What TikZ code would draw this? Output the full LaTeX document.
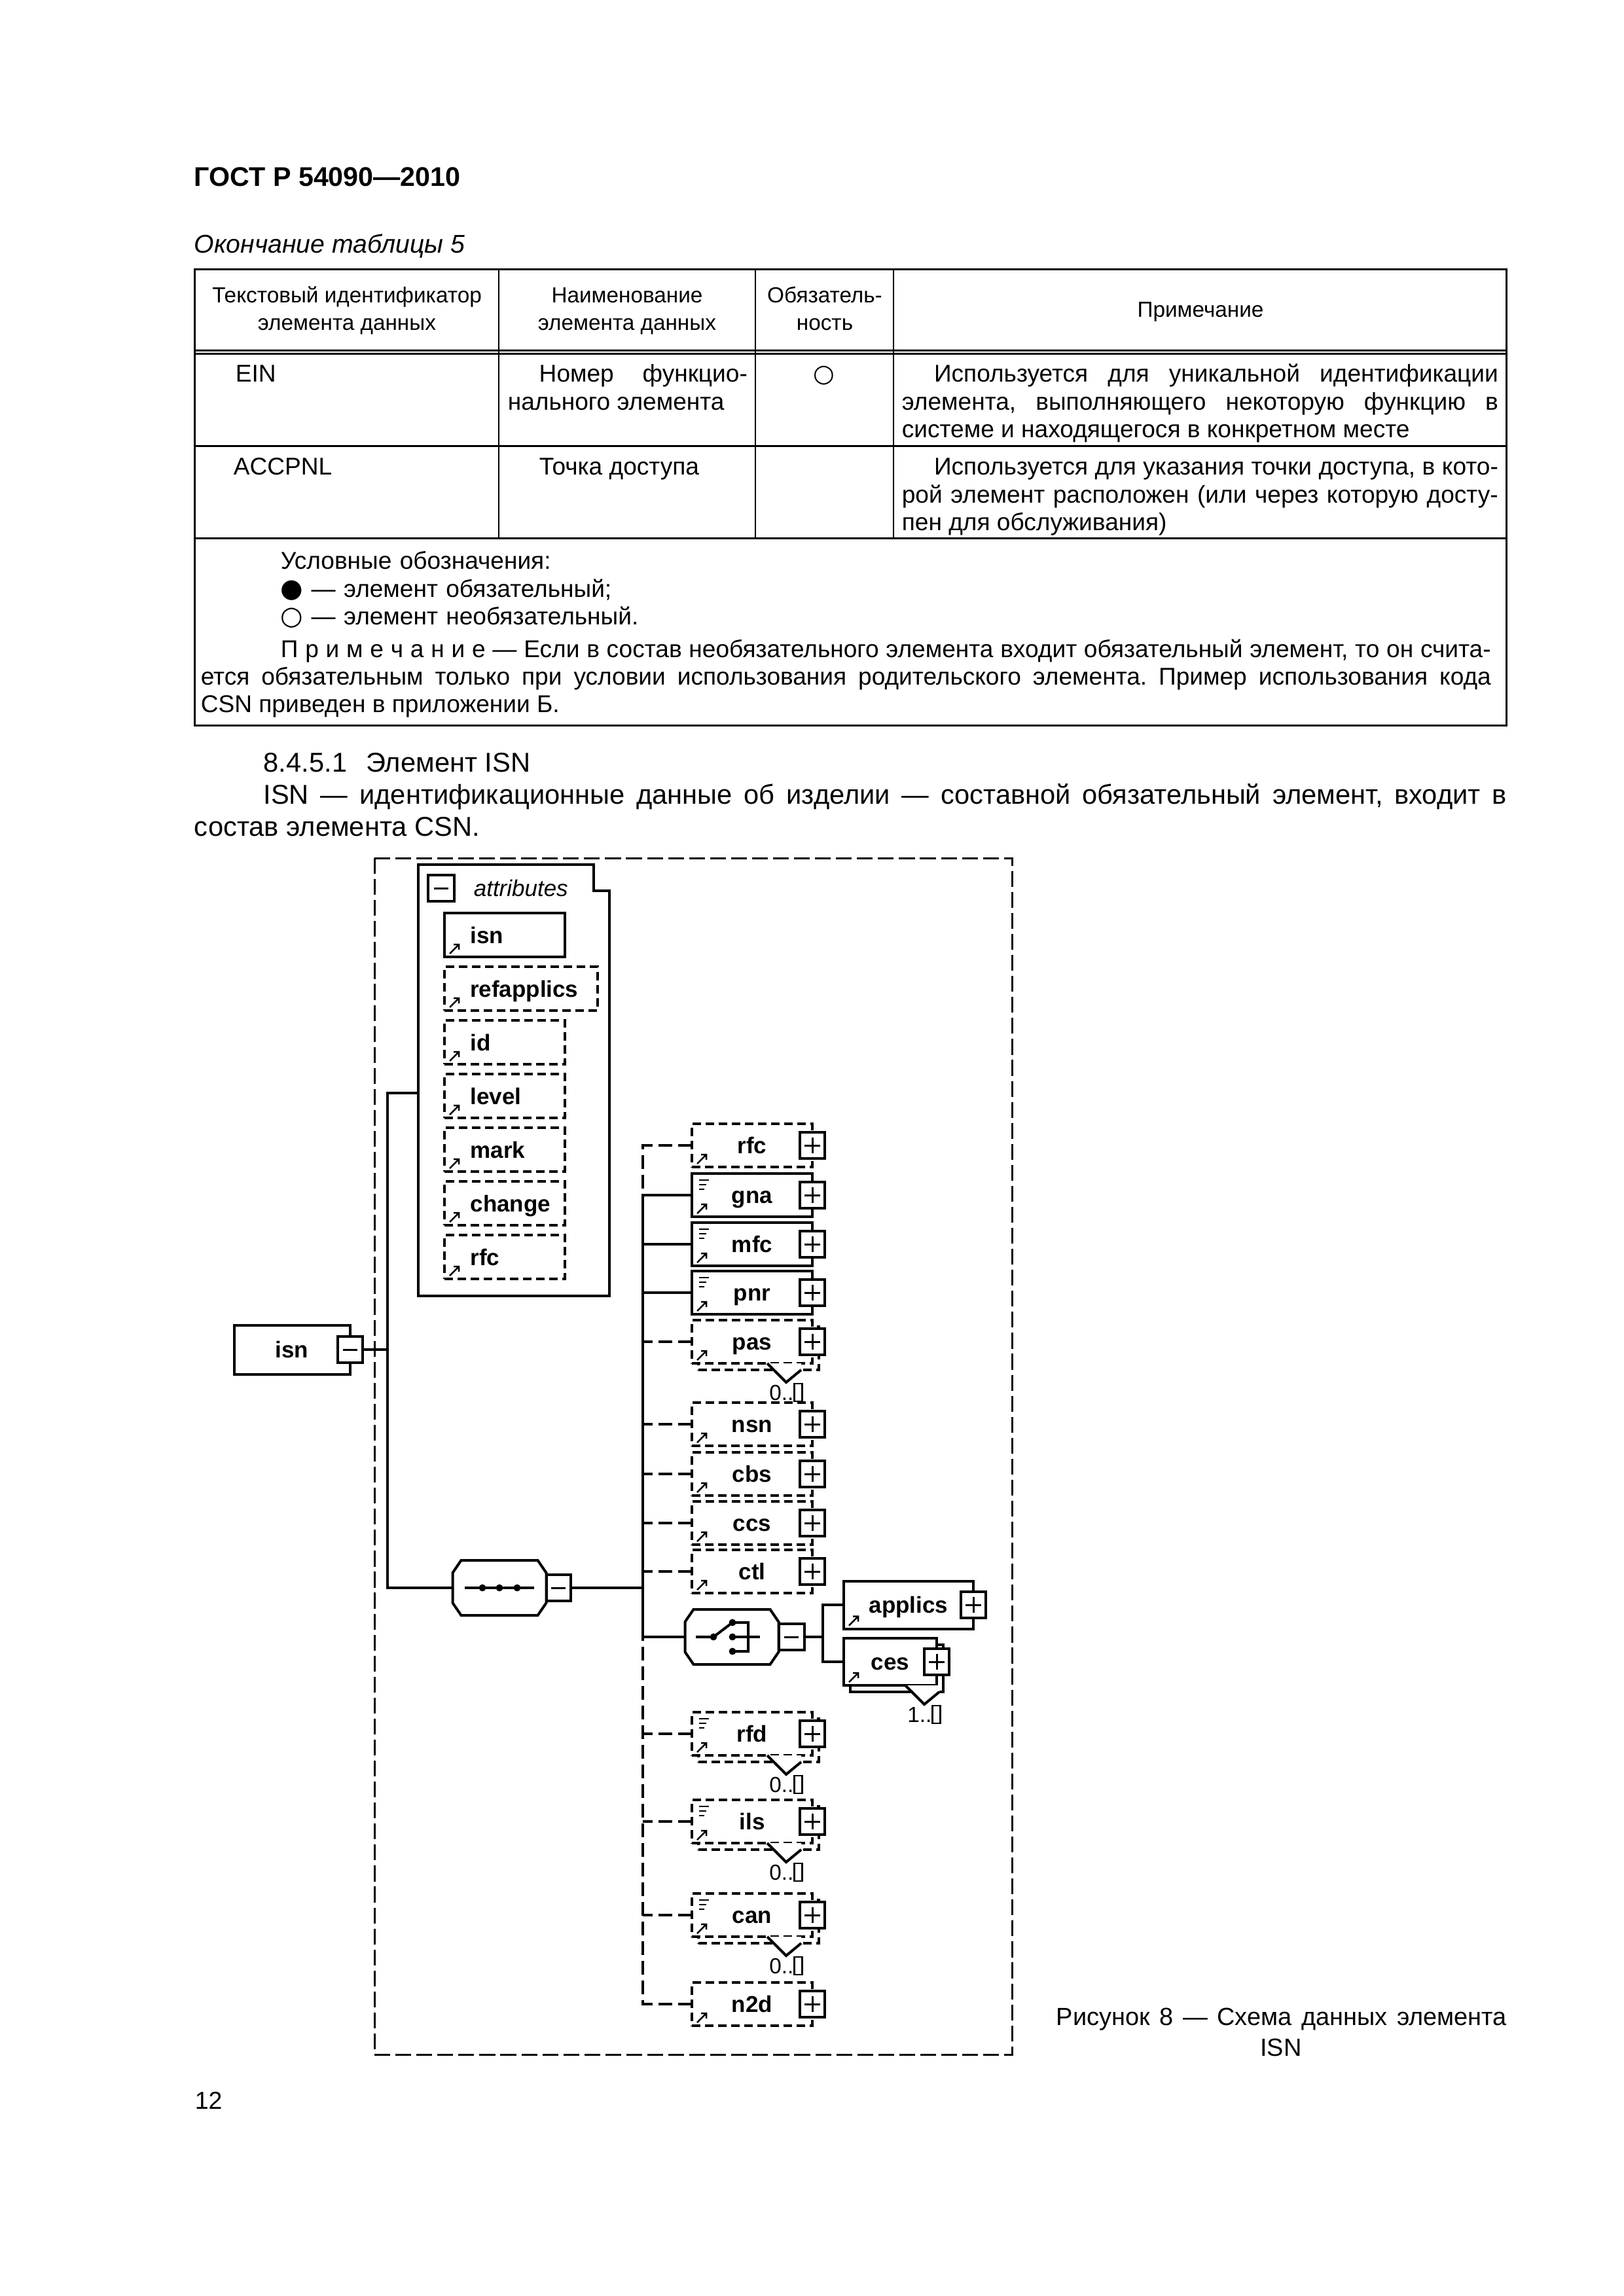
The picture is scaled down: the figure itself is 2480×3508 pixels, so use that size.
\documentclass[tikz,border=0pt]{standalone}
\usepackage{fontspec}
\setmainfont{Liberation Sans}
\newfontfamily\shapesfont{DejaVu Sans}
\usetikzlibrary{positioning,shadows,fit}
\frenchspacing
\newcommand{\pxu}{*0.24009pt}
\newcommand{\dotfull}{{\shapesfont\fontsize{9.5}{10}\selectfont ●}}
\newcommand{\dotempty}{{\shapesfont\fontsize{9.5}{10}\selectfont ○}}
\newcommand{\nobox}{{\fboxsep=0pt\fboxrule=0.6pt\fbox{\rule{0pt}{5.8pt}\hspace{2.2pt}}}}

\begin{document}
\begin{tikzpicture}[
  x=0.24009pt, y=-0.24009pt,
  txt/.style={inner sep=0pt, anchor=base west},
  body/.style={txt, font=\fontsize{10}{11.8}\selectfont},
  cell/.style={txt, font=\fontsize{8.9}{10.1}\selectfont},
  cellh/.style={txt, anchor=base, font=\fontsize{8}{10}\selectfont},
  tabline/.style={line width=0.72pt},
  thinline/.style={line width=0.4pt},
  outerbox/.style={line width=0.72pt, dash pattern=on 5.8pt off 1.9pt},
  elem/.style={draw, fill=white, line width=0.96pt, outer sep=0pt,
    minimum width=184\pxu, minimum height=66\pxu, inner sep=0pt,
    text height=6.6pt, text depth=0.6pt,
    font=\bfseries\fontsize{8.4}{10}\selectfont},
  optelem/.style={elem, dash pattern=on 3.1pt off 1.7pt},
  multi/.style={copy shadow={shadow xshift=2.4pt, shadow yshift=-2.4pt}},
  optmulti/.style={optelem, multi},
  multielem/.style={elem, multi},
  attr/.style={elem, anchor=north west, minimum height=67\pxu,
    text width=183\pxu, align=left, execute at begin node={\hspace*{9.4pt}}},
  optattr/.style={attr, dash pattern=on 3.1pt off 1.7pt},
  conn/.style={line width=0.96pt},
  optconn/.style={conn, dash pattern=on 5pt off 2.2pt},
  signbox/.style={draw, fill=white, line width=0.96pt, outer sep=0pt,
    minimum width=38\pxu, minimum height=40\pxu, inner sep=0pt},
  plusbox/.style={signbox, path picture={
    \draw[line width=0.72pt]
      ([shift={(-12,0)}]path picture bounding box.center) -- ++(24,0)
      ([shift={(0,-12)}]path picture bounding box.center) -- ++(0,24);}},
  minusbox/.style={signbox, path picture={
    \draw[line width=0.72pt]
      ([shift={(-11,0)}]path picture bounding box.center) -- ++(22,0);}},
  compositor/.style={outer sep=0pt, inner sep=0pt,
    minimum width=143\pxu, minimum height=84\pxu},
  icon/.style={line width=0.6pt},
  mult/.style={inner sep=0pt, anchor=north, font=\fontsize{8}{9}\selectfont},
]
\path[use as bounding box, fill=white] (0,0) rectangle (2480,3508);

% --- Page head ---
\node[txt, font=\bfseries\fontsize{9.9}{12}\selectfont] (title) at (296,285) {ГОСТ Р 54090—2010};
\node[txt, font=\itshape\fontsize{9.4}{11}\selectfont] (tabcont) at (296,387) {Окончание таблицы 5};

% --- Table 5 (end) ---
\draw[tabline] (297,412) rectangle (2301,1108);
\draw[tabline] (297,536) -- (2301,536) (297,541) -- (2301,541);
\draw[tabline] (297,682) -- (2301,682) (297,823) -- (2301,823);
\draw[thinline] (762,412) -- (762,823) (1154,412) -- (1154,823) (1365,412) -- (1365,823);

\node[cellh] (h1a) at (530,463) {Текстовый идентификатор};
\node[cellh] (h1b) at (530,505) {элемента данных};
\node[cellh] (h2a) at (958,463) {Наименование};
\node[cellh] (h2b) at (958,505) {элемента данных};
\node[cellh] (h3a) at (1260,463) {Обязатель-};
\node[cellh] (h3b) at (1260,505) {ность};
\node[cellh] (h4) at (1834,485) {Примечание};

\node[cell] (ein) at (359,584) {EIN};
\node[cell, text width=366\pxu, align=justify] (einname) at (775,584)
  {\hspace*{11.5pt}Номер функцио-\linebreak нального элемента};
\node[inner sep=0pt, font=\shapesfont\fontsize{9}{9}\selectfont] (einreq) at (1259,574) {○};
\node[cell, text width=911\pxu, align=justify] (einnote) at (1377,584)
  {\hspace*{11.8pt}Используется для уникальной идентификации\linebreak
   элемента, выполняющего некоторую функцию в\linebreak
   системе и находящегося в конкретном месте};

\node[cell] (acc) at (356,726) {ACCPNL};
\node[cell] (accname) at (823,726) {Точка доступа};
\node[cell, text width=911\pxu, align=justify] (accnote) at (1377,726)
  {\hspace*{11.8pt}Используется для указания точки доступа, в кото-\linebreak
   рой элемент расположен (или через которую досту-\linebreak
   пен для обслуживания)};

\node[cell, text width=1849\pxu, align=left] (legend) at (428,870)
  {Условные обозначения:\\ \dotfull{} — элемент обязательный;\\ \dotempty{} — элемент необязательный.};
\node[cell, text width=1971\pxu, align=justify] (note) at (306,1004)
  {\hspace*{29.3pt}П~р~и~м~е~ч~а~н~и~е — Если в состав необязательного элемента входит обязательный элемент, то он счита-\linebreak
   ется обязательным только при условии использования родительского элемента. Пример использования кода\linebreak
   CSN приведен в приложении Б.};

% --- Text ---
\node[body] (sect) at (402,1179) {8.4.5.1\hspace{7pt}Элемент ISN};
\node[body, text width=2005\pxu, align=justify] (isndef) at (296,1228)
  {\hspace*{25.4pt}ISN — идентификационные данные об изделии — составной обязательный элемент, входит в\linebreak
   состав элемента CSN.};

% --- Figure 8 ---
\draw[outerbox] (572,1311) rectangle (1546,3139);

% attributes group
\coordinate (attrTL) at (640,1322);
\coordinate (attrBR) at (930,1979);
\node[fit=(attrTL)(attrBR), inner sep=0pt] (attrs) {};
\draw[conn] (attrs.north west) -- ++(268,0) -- ++(0,40) -| (attrs.south east)
  -| (attrs.north west) -- cycle;
\node[minusbox, minimum width=40\pxu] (attrs-m) at (674,1357) {};
\node[anchor=west, inner sep=0pt, font=\itshape\fontsize{8.4}{10}\selectfont] (attrs-t)
  at (723,1357) {attributes};

\node[attr] (a-isn) at (679,1395) {isn};
\node[optattr, text width=234\pxu, below=15\pxu of a-isn.south west, anchor=north west] (a-ref) {refapplics};
\node[optattr, below=15\pxu of a-ref.south west, anchor=north west] (a-id) {id};
\node[optattr, below=15\pxu of a-id.south west, anchor=north west] (a-level) {level};
\node[optattr, below=15\pxu of a-level.south west, anchor=north west] (a-mark) {mark};
\node[optattr, below=15\pxu of a-mark.south west, anchor=north west] (a-change) {change};
\node[optattr, below=15\pxu of a-change.south west, anchor=north west] (a-rfc) {rfc};

% root element and compositors
\node[elem, minimum width=177\pxu, minimum height=75\pxu] (root) at (446,2062) {isn};
\node[minusbox] (root-m) at (root.east) {};
\coordinate (attrin) at (640,1670);
\coordinate (spine) at (592,2062);

\node[compositor] (seq) at (763,2426) {};
\node[compositor] (choice) at (1118,2501) {};
\foreach \n in {seq,choice}
  \draw[conn, fill=white] ([shift={(13,0)}]\n.north west) -- ([shift={(-13,0)}]\n.north east)
    -- ([shift={(0,19)}]\n.north east) -- ([shift={(0,-19)}]\n.south east)
    -- ([shift={(-13,0)}]\n.south east) -- ([shift={(13,0)}]\n.south west)
    -- ([shift={(0,-19)}]\n.south west) -- ([shift={(0,19)}]\n.north west) -- cycle;
\node[minusbox, minimum width=37\pxu, anchor=west] (seq-m) at (seq.east) {};
\node[minusbox, minimum width=39\pxu, anchor=west] (choice-m) at (choice.east) {};

\draw[conn] ([shift={(-53,0)}]seq.center) -- ([shift={(53,0)}]seq.center);
\foreach \d in {-26,0,27}
  \fill ([shift={(\d,0)}]seq.center) circle (1.3pt);

\draw[conn] ([shift={(-55,0)}]choice.center) -- ([shift={(-28,0)}]choice.center)
  -- ([shift={(1,-22)}]choice.center) -- ([shift={(25,-22)}]choice.center)
  -- ([shift={(25,22)}]choice.center) -- ([shift={(1,22)}]choice.center);
\draw[conn] ([shift={(1,0)}]choice.center) -- ([shift={(43,0)}]choice.center);
\foreach \x/\y in {-28/0, 1/-22, 1/0, 1/22}
  \fill ([shift={(\x,\y)}]choice.center) circle (1.3pt);

% sequence children
\foreach \n/\s/\y in {rfc/optelem/1750, gna/elem/1826, mfc/elem/1901, pnr/elem/1975,
    pas/optmulti/2050, nsn/optelem/2176, cbs/optelem/2252, ccs/optelem/2327,
    ctl/optelem/2401, rfd/optmulti/2649, ils/optmulti/2783, can/optmulti/2926,
    n2d/optelem/3062}
  \node[\s] (\n) at (1149,\y) {\n};

\node[elem, minimum width=198\pxu, minimum height=73\pxu] (applics) at (1388,2452) {applics};
\node[multielem, minimum width=142\pxu, minimum height=72\pxu] (ces) at (1360,2539) {ces};
\coordinate (fork) at (1257,2501);

% occurrence pointers
\foreach \n/\m in {pas/0, rfd/0, ils/0, can/0, ces/1} {
  \fill[white] ([shift={(23,0)}]\n.south) -- ([shift={(52,29)}]\n.south)
    -- ([shift={(75,10)}]\n.south) -- ([shift={(75,0)}]\n.south) -- cycle;
  \draw[conn] ([shift={(23,0)}]\n.south) -- ([shift={(52,29)}]\n.south)
    -- ([shift={(75,10)}]\n.south);
  \node[mult] (\n-n) at ([shift={(52,29)}]\n.south) {\m..\nobox};
}

\foreach \n in {rfc,gna,mfc,pnr,pas,nsn,cbs,ccs,ctl,rfd,ils,can,n2d,applics,ces}
  \node[plusbox] (\n-p) at (\n.east) {};

% icons
\foreach \n in {gna,mfc,pnr,rfd,ils,can}
  \draw[icon] ([shift={(11,10)}]\n.north west) -- ++(15,0)
    ([shift={(11,17)}]\n.north west) -- ++(11,0)
    ([shift={(11,24)}]\n.north west) -- ++(8,0);
\foreach \n in {a-isn,a-ref,a-id,a-level,a-mark,a-change,a-rfc,rfc,gna,mfc,pnr,pas,
    nsn,cbs,ccs,ctl,rfd,ils,can,n2d,applics,ces}
  \draw[icon] ([shift={(8,-5)}]\n.south west) -- ++(14,-14) ++(-8,0) -- ++(8,0) -- ++(0,8);

% connectors
\coordinate (bus) at (982,1750);
\draw[conn] (root-m.east) -- (spine);
\draw[conn] (attrin) -| (spine) |- (seq.west);
\draw[conn] (seq-m.east) -- (seq-m.east -| bus);
\draw[optconn] (rfc.west) -| (bus |- gna.west);
\draw[conn] (gna.west) -| (bus |- choice.west);
\foreach \n in {mfc,pnr,choice}
  \draw[conn] (\n.west) -- (bus |- \n.west);
\foreach \n in {pas,nsn,cbs,ccs,ctl,rfd,ils,can}
  \draw[optconn] (\n.west) -- (bus |- \n.west);
\draw[optconn] (n2d.west) -| (bus |- choice.west);
\draw[conn] (choice-m.east) -- (fork);
\draw[conn] (applics.west) -| (fork) |- (ces.west);

% --- Caption and page number ---
\node[txt, font=\fontsize{9.1}{11.3}\selectfont] (cap) at (1613,3094)
  {\makebox[165.2pt][s]{Рисунок 8 — Схема данных элемента}};
\node[txt, anchor=base, font=\fontsize{9.1}{11.3}\selectfont] (cap2) at (1957,3141) {ISN};
\node[txt, font=\fontsize{9}{11}\selectfont] (pagenum) at (297,3222) {12};
\end{tikzpicture}
\end{document}
